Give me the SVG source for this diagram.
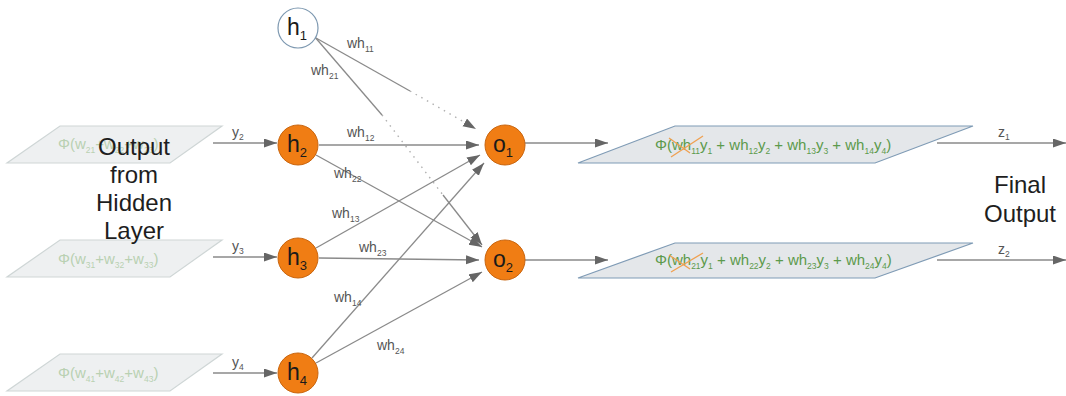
<svg xmlns="http://www.w3.org/2000/svg" width="1066" height="396" viewBox="0 0 1066 396">
<style>
  text{font-family:"Liberation Sans",Arial,sans-serif}
  .conn{stroke:#8a8a8a;stroke-width:1.3;fill:none}
  .dot{stroke:#b0b0b0;stroke-width:1.4;fill:none;stroke-dasharray:1.5 5}
  .hid{fill:#f07d14;stroke:#c9650e;stroke-width:1}
  .nodelbl{font-size:23px;fill:#1a1a1a}
  .nsub{font-size:13px}
  .w{font-size:14px;fill:#555}
  .ws{font-size:8.5px}
  .inpara{fill:#eef0f1;stroke:#cfd6d6;stroke-width:1.2}
  .outpara{fill:#e4e7ea;stroke:#7f9bb5;stroke-width:1.2}
  .inf{font-size:15px;fill:#b9d0b2}
  .outf{font-size:15px;fill:#5c9a4c}
  .fs{font-size:8.5px}
  .big{font-size:24px;fill:#1e1e1e}
  .strike{stroke:#f0a050;stroke-width:1.3}
</style>
<defs>
  <marker id="arr" markerUnits="userSpaceOnUse" markerWidth="14" markerHeight="10" refX="13" refY="4.5" orient="auto">
    <path d="M0,0 L13,4.5 L0,9 z" fill="#666"/>
  </marker>
</defs>

<g id="inputs">
  <g id="in2">
    <polygon class="inpara" points="60,126 222,126 170,163 7,163"/>
    <text class="inf" x="58" y="149">Φ(w<tspan class="fs" dy="4">21</tspan><tspan dy="-4">+w</tspan><tspan class="fs" dy="4">22</tspan><tspan dy="-4">+w</tspan><tspan class="fs" dy="4">23</tspan><tspan dy="-4">)</tspan></text>
  </g>
  <g id="in3">
    <polygon class="inpara" points="60,240 222,240 170,277 7,277"/>
    <text class="inf" x="58" y="264">Φ(w<tspan class="fs" dy="4">31</tspan><tspan dy="-4">+w</tspan><tspan class="fs" dy="4">32</tspan><tspan dy="-4">+w</tspan><tspan class="fs" dy="4">33</tspan><tspan dy="-4">)</tspan></text>
  </g>
  <g id="in4">
    <polygon class="inpara" points="60,354 222,354 170,391 7,391"/>
    <text class="inf" x="58" y="378">Φ(w<tspan class="fs" dy="4">41</tspan><tspan dy="-4">+w</tspan><tspan class="fs" dy="4">42</tspan><tspan dy="-4">+w</tspan><tspan class="fs" dy="4">43</tspan><tspan dy="-4">)</tspan></text>
  </g>
</g>

<g id="connectors">
  <line class="conn" x1="213" y1="143" x2="277" y2="143" marker-end="url(#arr)"/>
  <line class="conn" x1="213" y1="257" x2="277" y2="257" marker-end="url(#arr)"/>
  <line class="conn" x1="213" y1="373" x2="277" y2="373" marker-end="url(#arr)"/>
  <line class="conn" x1="316" y1="38" x2="410" y2="91"/>
  <line class="dot" x1="410" y1="91" x2="464" y2="122"/>
  <line class="conn" x1="464" y1="122" x2="476" y2="129" marker-end="url(#arr)" stroke-opacity="0"/>
  <line class="conn" x1="314" y1="36" x2="382" y2="115"/>
  <line class="dot" x1="382" y1="115" x2="443" y2="195"/>
  <line class="conn" x1="443" y1="195" x2="482" y2="245" marker-end="url(#arr)"/>
  <line class="conn" x1="319" y1="145" x2="479" y2="145" marker-end="url(#arr)"/>
  <line class="conn" x1="316" y1="155" x2="482" y2="247" marker-end="url(#arr)"/>
  <line class="conn" x1="316" y1="248" x2="480" y2="155" marker-end="url(#arr)"/>
  <line class="conn" x1="319" y1="258" x2="479" y2="260" marker-end="url(#arr)"/>
  <line class="conn" x1="312" y1="358" x2="484" y2="163" marker-end="url(#arr)"/>
  <line class="conn" x1="316" y1="363" x2="482" y2="272" marker-end="url(#arr)"/>
  <line class="conn" x1="525" y1="143" x2="608" y2="143" marker-end="url(#arr)"/>
  <line class="conn" x1="525" y1="260" x2="608" y2="260" marker-end="url(#arr)"/>
  <line class="conn" x1="937" y1="143" x2="1066" y2="143" marker-end="url(#arr)"/>
  <line class="conn" x1="937" y1="260" x2="1066" y2="260" marker-end="url(#arr)"/>
</g>

<g id="labels">
  <text class="w" x="232" y="137">y<tspan class="ws" dy="3">2</tspan></text>
  <text class="w" x="232" y="251">y<tspan class="ws" dy="3">3</tspan></text>
  <text class="w" x="232" y="367">y<tspan class="ws" dy="3">4</tspan></text>
  <text class="w" x="347" y="48">wh<tspan class="ws" dy="4">11</tspan></text>
  <text class="w" x="311" y="75">wh<tspan class="ws" dy="4">21</tspan></text>
  <text class="w" x="347" y="137">wh<tspan class="ws" dy="4">12</tspan></text>
  <text class="w" x="334" y="178">wh<tspan class="ws" dy="4">22</tspan></text>
  <text class="w" x="332" y="218">wh<tspan class="ws" dy="4">13</tspan></text>
  <text class="w" x="359" y="252">wh<tspan class="ws" dy="4">23</tspan></text>
  <text class="w" x="334" y="302">wh<tspan class="ws" dy="4">14</tspan></text>
  <text class="w" x="377" y="350">wh<tspan class="ws" dy="4">24</tspan></text>
  <text class="w" x="998" y="137">z<tspan class="ws" dy="3">1</tspan></text>
  <text class="w" x="998" y="254">z<tspan class="ws" dy="3">2</tspan></text>
</g>

<g id="h1">
  <circle cx="298" cy="28" r="20" fill="#ffffff" stroke="#7d98b0" stroke-width="1.2"/>
  <text class="nodelbl" x="287" y="35">h<tspan class="nsub" dy="5">1</tspan></text>
</g>
<g id="h2">
  <circle class="hid" cx="298" cy="145" r="20"/>
  <text class="nodelbl" x="287" y="152">h<tspan class="nsub" dy="5">2</tspan></text>
</g>
<g id="h3">
  <circle class="hid" cx="298" cy="258" r="20"/>
  <text class="nodelbl" x="287" y="265">h<tspan class="nsub" dy="5">3</tspan></text>
</g>
<g id="h4">
  <circle class="hid" cx="298" cy="373" r="20"/>
  <text class="nodelbl" x="287" y="380">h<tspan class="nsub" dy="5">4</tspan></text>
</g>
<g id="o1">
  <circle class="hid" cx="505" cy="145" r="20"/>
  <text class="nodelbl" x="493" y="152">o<tspan class="nsub" dy="5">1</tspan></text>
</g>
<g id="o2">
  <circle class="hid" cx="505" cy="260" r="20"/>
  <text class="nodelbl" x="493" y="267">o<tspan class="nsub" dy="5">2</tspan></text>
</g>

<g id="out1">
  <polygon class="outpara" points="675,126 973,126 875,163 578,163"/>
  <text class="outf" x="655" y="150">Φ(wh<tspan class="fs" dy="4">11</tspan><tspan dy="-4">y</tspan><tspan class="fs" dy="4">1</tspan><tspan dy="-4"> + wh</tspan><tspan class="fs" dy="4">12</tspan><tspan dy="-4">y</tspan><tspan class="fs" dy="4">2</tspan><tspan dy="-4"> + wh</tspan><tspan class="fs" dy="4">13</tspan><tspan dy="-4">y</tspan><tspan class="fs" dy="4">3</tspan><tspan dy="-4"> + wh</tspan><tspan class="fs" dy="4">14</tspan><tspan dy="-4">y</tspan><tspan class="fs" dy="4">4</tspan><tspan dy="-4">)</tspan></text>
  <line class="strike" x1="671" y1="157" x2="703" y2="136"/>
  <line class="strike" x1="669" y1="138" x2="690" y2="153"/>
</g>
<g id="out2">
  <polygon class="outpara" points="675,243 973,243 875,278 578,278"/>
  <text class="outf" x="655" y="265">Φ(wh<tspan class="fs" dy="4">21</tspan><tspan dy="-4">y</tspan><tspan class="fs" dy="4">1</tspan><tspan dy="-4"> + wh</tspan><tspan class="fs" dy="4">22</tspan><tspan dy="-4">y</tspan><tspan class="fs" dy="4">2</tspan><tspan dy="-4"> + wh</tspan><tspan class="fs" dy="4">23</tspan><tspan dy="-4">y</tspan><tspan class="fs" dy="4">3</tspan><tspan dy="-4"> + wh</tspan><tspan class="fs" dy="4">24</tspan><tspan dy="-4">y</tspan><tspan class="fs" dy="4">4</tspan><tspan dy="-4">)</tspan></text>
  <line class="strike" x1="671" y1="272" x2="703" y2="253"/>
  <line class="strike" x1="669" y1="255" x2="690" y2="269"/>
</g>

<g id="captions">
  <text class="big" text-anchor="middle" x="134" y="155">Output</text>
  <text class="big" text-anchor="middle" x="134" y="183">from</text>
  <text class="big" text-anchor="middle" x="134" y="211">Hidden</text>
  <text class="big" text-anchor="middle" x="134" y="239">Layer</text>
  <text class="big" text-anchor="middle" x="1020" y="193">Final</text>
  <text class="big" text-anchor="middle" x="1020" y="222">Output</text>
</g>
</svg>
